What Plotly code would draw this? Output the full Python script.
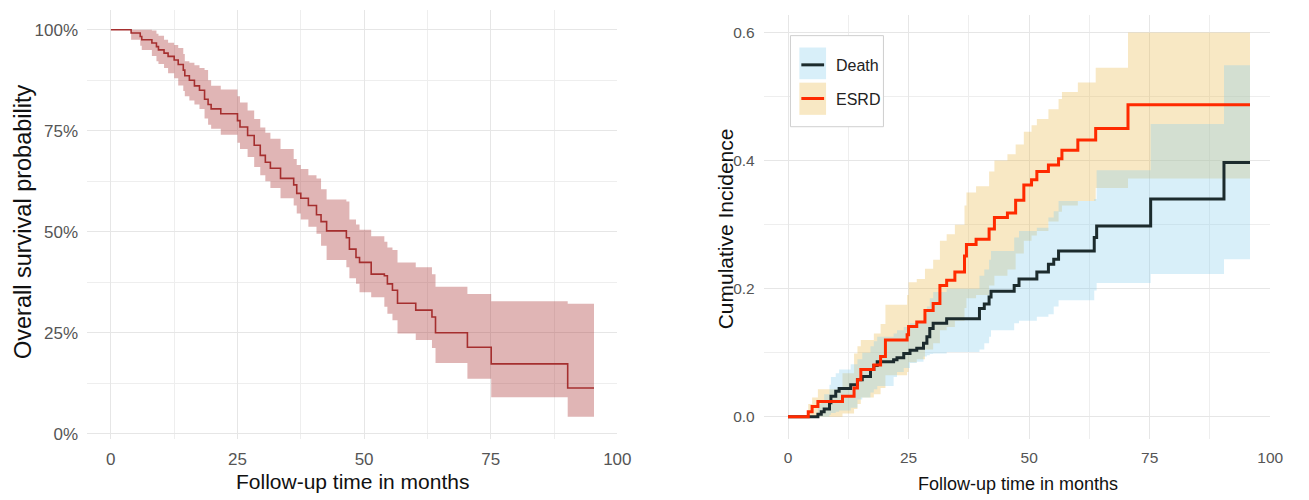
import plotly.graph_objects as go

# ---------------- Overall survival (Kaplan-Meier) ----------------
km_time = [0, 4.0, 5.8, 6.1, 8.1, 9.0, 9.4, 10.5, 11.3, 12.5,
           13.3, 14.3, 14.6, 15.5, 16.5, 17.5, 18.5, 19.2, 19.8, 21.7,
           25.0, 25.5, 27.0, 28.3, 29.5, 30.5, 31.5, 33.5, 36.1, 36.7,
           37.5, 39.0, 40.6, 41.5, 42.6, 46.5, 47.1, 48.4, 49.1, 51.4,
           54.0, 54.6, 55.6, 56.6, 60.2, 63.4, 64.1, 70.4, 75.1, 90.2,
           95.4]
km_surv = [1.000, 0.992, 0.983, 0.975, 0.967, 0.958, 0.950, 0.942, 0.934, 0.925,
           0.914, 0.900, 0.886, 0.875, 0.861, 0.850, 0.828, 0.815, 0.804, 0.792,
           0.775, 0.759, 0.738, 0.714, 0.689, 0.672, 0.657, 0.632, 0.616, 0.595,
           0.583, 0.565, 0.542, 0.525, 0.502, 0.485, 0.457, 0.436, 0.424, 0.395,
           0.391, 0.371, 0.355, 0.323, 0.306, 0.289, 0.250, 0.214, 0.173, 0.113,
           0.113]
km_lower = [1.000, 0.975, 0.960, 0.950, 0.935, 0.922, 0.915, 0.905, 0.892, 0.880,
            0.862, 0.848, 0.835, 0.825, 0.815, 0.804, 0.780, 0.765, 0.755, 0.740,
            0.720, 0.705, 0.685, 0.660, 0.640, 0.625, 0.608, 0.583, 0.565, 0.545,
            0.530, 0.512, 0.495, 0.465, 0.430, 0.412, 0.385, 0.371, 0.350, 0.338,
            0.314, 0.297, 0.281, 0.248, 0.232, 0.212, 0.175, 0.136, 0.090, 0.042,
            0.042]
km_upper = [1.000, 1.000, 1.000, 1.000, 0.998, 0.990, 0.985, 0.975, 0.968, 0.962,
            0.955, 0.940, 0.922, 0.918, 0.912, 0.905, 0.900, 0.875, 0.861, 0.852,
            0.835, 0.820, 0.800, 0.779, 0.758, 0.745, 0.730, 0.705, 0.680, 0.665,
            0.655, 0.640, 0.632, 0.605, 0.580, 0.575, 0.530, 0.518, 0.505, 0.489,
            0.475, 0.461, 0.455, 0.424, 0.412, 0.395, 0.364, 0.346, 0.328, 0.322,
            0.322]

# ---------------- Cumulative incidence: Death ----------------
death_time = [0, 6.2, 6.9, 7.5, 8.6, 8.9, 9.9, 10.6, 13.0, 14.4,
              15.4, 17.1, 17.8, 18.5, 21.9, 22.6, 24.0, 25.3, 26.7, 28.1,
              28.8, 29.4, 30.1, 32.9, 39.7, 40.7, 41.7, 42.1, 46.9, 47.9,
              51.6, 54.0, 55.1, 56.1, 63.5, 64.0, 75.2, 90.4, 95.8]
death_est = [0, 0.004, 0.008, 0.012, 0.022, 0.032, 0.040, 0.044, 0.050, 0.058,
             0.063, 0.074, 0.080, 0.086, 0.089, 0.092, 0.099, 0.104, 0.107, 0.115,
             0.125, 0.138, 0.146, 0.153, 0.169, 0.176, 0.187, 0.196, 0.205, 0.215,
             0.226, 0.238, 0.246, 0.259, 0.280, 0.298, 0.340, 0.397, 0.397]
death_lo = [0, 0, 0, 0, 0.003, 0.006, 0.008, 0.010, 0.014, 0.027,
            0.030, 0.038, 0.043, 0.048, 0.062, 0.070, 0.076, 0.084, 0.086, 0.094,
            0.096, 0.098, 0.099, 0.101, 0.105, 0.115, 0.125, 0.135, 0.146, 0.150,
            0.156, 0.160, 0.172, 0.182, 0.197, 0.209, 0.223, 0.246, 0.246]
death_hi = [0, 0.020, 0.025, 0.035, 0.050, 0.062, 0.068, 0.074, 0.082, 0.090,
            0.100, 0.110, 0.118, 0.125, 0.130, 0.135, 0.140, 0.146, 0.150, 0.160,
            0.172, 0.185, 0.195, 0.200, 0.220, 0.230, 0.245, 0.259, 0.280, 0.290,
            0.295, 0.311, 0.321, 0.337, 0.340, 0.385, 0.457, 0.549, 0.549]

# ---------------- Cumulative incidence: ESRD ----------------
esrd_time = [0, 4.2, 5.0, 6.2, 11.3, 13.7, 14.4, 15.1, 17.8, 19.2,
             20.2, 24.7, 25.0, 26.7, 28.4, 30.1, 31.5, 32.9, 34.6, 36.6,
             37.0, 39.0, 41.7, 42.8, 45.5, 47.2, 48.9, 50.5, 51.6, 54.0,
             56.1, 56.8, 60.1, 63.8, 70.5, 95.8]
esrd_est = [0, 0.008, 0.016, 0.024, 0.032, 0.045, 0.058, 0.074, 0.081, 0.094,
            0.120, 0.128, 0.141, 0.148, 0.166, 0.177, 0.205, 0.213, 0.226, 0.251,
            0.269, 0.277, 0.293, 0.311, 0.318, 0.338, 0.362, 0.370, 0.383, 0.393,
            0.403, 0.416, 0.432, 0.450, 0.487, 0.487]
esrd_lo = [0, 0, 0, 0, 0.005, 0.012, 0.020, 0.030, 0.035, 0.045,
           0.065, 0.070, 0.085, 0.090, 0.105, 0.115, 0.135, 0.140, 0.150, 0.170,
           0.185, 0.190, 0.205, 0.220, 0.230, 0.255, 0.275, 0.283, 0.290, 0.305,
           0.320, 0.330, 0.337, 0.357, 0.372, 0.372]
esrd_hi = [0, 0.020, 0.030, 0.043, 0.068, 0.099, 0.110, 0.120, 0.130, 0.145,
           0.175, 0.190, 0.210, 0.215, 0.231, 0.245, 0.275, 0.285, 0.300, 0.330,
           0.350, 0.360, 0.383, 0.400, 0.410, 0.425, 0.445, 0.455, 0.465, 0.480,
           0.496, 0.507, 0.522, 0.545, 0.600, 0.600]

x_ticks = [0, 25, 50, 75, 100]
surv_ticks = [0, 0.25, 0.5, 0.75, 1.0]
surv_labels = ["0%", "25%", "50%", "75%", "100%"]
ci_ticks = [0, 0.2, 0.4, 0.6]
ci_labels = ["0.0", "0.2", "0.4", "0.6"]
series_names = ["Death", "ESRD"]
x_title = "Follow-up time in months"

FONT = "Liberation Sans, Arial, sans-serif"
TICK_COLOR = "#555555"
GRID_MAJOR = "#e6e6e6"
GRID_MINOR = "#eeeeee"

KM_LINE = "#a52f2f"
KM_BAND = "rgba(165,42,42,0.35)"
DEATH_LINE = "#1c2b2d"
DEATH_BAND = "rgba(135,206,235,0.32)"
ESRD_LINE = "#ff2a00"
ESRD_BAND = "rgba(235,185,75,0.33)"

W, H = 1309, 500


def px_x(p):
    return p / W


def px_y(p):
    return 1 - p / H


fig = go.Figure()


def band(x, lo, hi, color, xa, ya):
    fig.add_trace(go.Scatter(x=x, y=hi, mode="lines", line=dict(width=0, shape="hv"),
                             hoverinfo="skip", showlegend=False, xaxis=xa, yaxis=ya))
    fig.add_trace(go.Scatter(x=x, y=lo, mode="lines", line=dict(width=0, shape="hv"),
                             fill="tonexty", fillcolor=color, hoverinfo="skip",
                             showlegend=False, xaxis=xa, yaxis=ya))


# left panel
band(km_time, km_lower, km_upper, KM_BAND, "x", "y")
fig.add_trace(go.Scatter(x=km_time, y=km_surv, mode="lines",
                         line=dict(color=KM_LINE, width=1.6, shape="hv"),
                         showlegend=False, xaxis="x", yaxis="y"))

# right panel
band(esrd_time, esrd_lo, esrd_hi, ESRD_BAND, "x2", "y2")
band(death_time, death_lo, death_hi, DEATH_BAND, "x2", "y2")
fig.add_trace(go.Scatter(x=death_time, y=death_est, mode="lines", name=series_names[0],
                         line=dict(color=DEATH_LINE, width=3, shape="hv"),
                         showlegend=False, xaxis="x2", yaxis="y2"))
fig.add_trace(go.Scatter(x=esrd_time, y=esrd_est, mode="lines", name=series_names[1],
                         line=dict(color=ESRD_LINE, width=3, shape="hv"),
                         showlegend=False, xaxis="x2", yaxis="y2"))


def axis_common(size):
    return dict(showgrid=True, gridcolor=GRID_MAJOR, gridwidth=1, zeroline=False,
                showline=False, ticks="", tickfont=dict(family=FONT, size=size, color=TICK_COLOR),
                ticklabelstandoff=8, fixedrange=True)


fig.update_layout(
    width=W, height=H,
    margin=dict(l=0, r=0, t=0, b=0),
    paper_bgcolor="white", plot_bgcolor="white",
    showlegend=False,
    xaxis=dict(domain=[px_x(88), px_x(624)], range=[-4.7, 100], anchor="y",
               tickmode="array", tickvals=x_ticks,
               minor=dict(tickmode="linear", tick0=0, dtick=12.5, showgrid=True,
                          gridcolor=GRID_MINOR, gridwidth=1),
               **axis_common(17)),
    yaxis=dict(domain=[px_y(443), px_y(10)], range=[-0.012, 1.049], anchor="x",
               tickmode="array", tickvals=surv_ticks, ticktext=surv_labels,
               minor=dict(tickmode="linear", tick0=0, dtick=0.125, showgrid=True,
                          gridcolor=GRID_MINOR, gridwidth=1),
               **axis_common(17)),
    xaxis2=dict(domain=[px_x(772), px_x(1284)], range=[-5.03, 100], anchor="y2",
                tickmode="array", tickvals=x_ticks,
                minor=dict(tickmode="linear", tick0=0, dtick=12.5, showgrid=True,
                           gridcolor=GRID_MINOR, gridwidth=1),
                **axis_common(15.5)),
    yaxis2=dict(domain=[px_y(443), px_y(15)], range=[-0.034, 0.6275], anchor="x2",
                tickmode="array", tickvals=ci_ticks, ticktext=ci_labels,
                minor=dict(tickmode="linear", tick0=0, dtick=0.1, showgrid=True,
                           gridcolor=GRID_MINOR, gridwidth=1),
                **axis_common(15.5)),
)

# axis titles
fig.add_annotation(text=x_title, xref="paper", yref="paper", x=px_x(356), y=px_y(486),
                   xanchor="center", yanchor="middle", showarrow=False,
                   font=dict(family=FONT, size=21, color="#111111"))
fig.add_annotation(text=x_title, xref="paper", yref="paper", x=px_x(1029), y=px_y(489),
                   xanchor="center", yanchor="middle", showarrow=False,
                   font=dict(family=FONT, size=18, color="#111111"))
fig.add_annotation(text="Overall survival probability", xref="paper", yref="paper",
                   x=px_x(23.5), y=px_y(224), textangle=-90, xanchor="center", yanchor="middle",
                   showarrow=False, font=dict(family=FONT, size=23.5, color="#111111"))
fig.add_annotation(text="Cumulative Incidence", xref="paper", yref="paper",
                   x=px_x(733), y=px_y(231.5), textangle=-90, xanchor="center", yanchor="middle",
                   showarrow=False, font=dict(family=FONT, size=21, color="#111111"))

# legend box for the competing-risk panel
fig.add_shape(type="rect", xref="paper", yref="paper",
              x0=px_x(799), x1=px_x(893), y0=px_y(128), y1=px_y(36),
              line=dict(color="#cfcfcf", width=1), fillcolor="white", layer="above")
legend_rows = [(series_names[0], DEATH_BAND, DEATH_LINE, 48, 80, 65.5),
               (series_names[1], ESRD_BAND, ESRD_LINE, 83.5, 116, 99.5)]
for name, bcol, lcol, top, bot, mid in legend_rows:
    fig.add_shape(type="rect", xref="paper", yref="paper",
                  x0=px_x(808), x1=px_x(835), y0=px_y(bot), y1=px_y(top),
                  line=dict(width=0), fillcolor=bcol, layer="above")
    fig.add_shape(type="line", xref="paper", yref="paper",
                  x0=px_x(810), x1=px_x(833), y0=px_y(mid), y1=px_y(mid),
                  line=dict(color=lcol, width=3), layer="above")
    fig.add_annotation(text=name, xref="paper", yref="paper", x=px_x(843), y=px_y(mid + 1),
                       xanchor="left", yanchor="middle", showarrow=False,
                       font=dict(family=FONT, size=16, color="#222222"))

fig.write_html("out.html")
